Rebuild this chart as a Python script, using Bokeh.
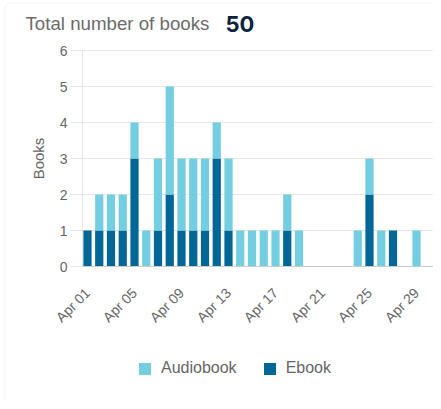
from bokeh.plotting import figure
from bokeh.models import (ColumnDataSource, Range1d, FixedTicker, Legend, LegendItem,
                          Label, PolyAnnotation)
from bokeh.embed import file_html
from bokeh.resources import INLINE
import math

# ---- data ----
day_labels = ["Apr %02d" % d for d in range(1, 31)]
days = list(range(30))
ebook = [1, 1, 1, 1, 3, 0, 1, 2, 1, 1, 1, 3, 1, 0, 0, 0, 0, 1, 0, 0,
         0, 0, 0, 0, 2, 0, 1, 0, 0, 0]
audiobook = [0, 1, 1, 1, 1, 1, 2, 3, 2, 2, 2, 1, 2, 1, 1, 1, 1, 1, 1, 0,
             0, 0, 0, 1, 1, 1, 0, 0, 1, 0]
tick_days = [0, 4, 8, 12, 16, 20, 24, 28]
y_ticks = [0, 1, 2, 3, 4, 5, 6]
title_text = "Total number of books"
total = sum(ebook) + sum(audiobook)

LIGHT = "#74cee2"
DARK = "#006796"
GRID = "#e6e6e6"
TXT = "#666666"

W, H = 433, 401
# pixel geometry of the plotting area inside the canvas
PX_DAY = 11.75          # pixels per day
PX_UNIT = 36.0          # pixels per book
X0_PX, Y0_PX = 87, 266  # canvas position of (Apr 01, 0)
x_lo = -X0_PX / PX_DAY
x_hi = (W - X0_PX) / PX_DAY
y_hi = Y0_PX / PX_UNIT
y_lo = -(H - Y0_PX) / PX_UNIT
x_axis_at = (82 - X0_PX) / PX_DAY

src = ColumnDataSource(dict(day=days, ebook=ebook, audiobook=audiobook))
grid_src = ColumnDataSource(dict(y=y_ticks))

p = figure(width=W, height=H, output_backend="svg", toolbar_location=None,
           x_range=Range1d(x_lo, x_hi), y_range=Range1d(y_lo, y_hi),
           min_border_left=0, min_border_right=0, min_border_top=0,
           min_border_bottom=0)
p.outline_line_color = None
p.background_fill_color = "white"
p.border_fill_color = "white"
p.xgrid.grid_line_color = None
p.ygrid.grid_line_color = None

# card border (left and top edges with a rounded corner; the rest lies off canvas)
L, T, R = 4.5, H - 2.5, 5.0
bx = [W + 60, L]
by = [-30, -30]
for a in range(180, 89, -15):
    t = math.radians(a)
    bx.append(L + R + R * math.cos(t))
    by.append(T - R + R * math.sin(t))
bx.append(W + 60)
by.append(T)
p.add_layout(PolyAnnotation(xs=bx, ys=by, xs_units="screen", ys_units="screen",
                            fill_color=None, fill_alpha=0, line_color="#dddddd",
                            line_width=1, level="underlay"))

# horizontal grid lines (from the y ticks)
p.segment(x0=x_axis_at, x1=x_hi, y0="y", y1="y", source=grid_src,
          line_color=GRID, line_width=1)

rs = p.vbar_stack(["ebook", "audiobook"], x="day", width=0.7, source=src,
                  color=[DARK, LIGHT], line_color=None)

# y axis, placed at the left edge of the plotting area
yax = p.yaxis[0]
yax.fixed_location = x_axis_at
yax.bounds = (0, 6)
yax.ticker = FixedTicker(ticks=y_ticks)
yax.axis_line_color = GRID
yax.major_tick_line_color = GRID
yax.major_tick_out = 12
yax.major_tick_in = 0
yax.minor_tick_line_color = None
yax.major_label_standoff = 3
yax.major_label_text_font = "Liberation Sans"
yax.major_label_text_font_size = "14px"
yax.major_label_text_color = TXT
yax.axis_label = "Books"
yax.axis_label_text_font = "Liberation Sans"
yax.axis_label_text_font_size = "15px"
yax.axis_label_text_font_style = "normal"
yax.axis_label_text_color = TXT
yax.axis_label_standoff = 10

xax = p.xaxis[0]
xax.fixed_location = 0
xax.bounds = (x_axis_at, x_hi)
xax.ticker = FixedTicker(ticks=tick_days)
xax.major_label_overrides = {d: day_labels[d] for d in tick_days}
xax.major_label_orientation = math.pi / 4
xax.axis_line_color = "#cccccc"
xax.major_tick_line_color = None
xax.major_tick_out = 0
xax.major_tick_in = 0
xax.minor_tick_line_color = None
xax.major_label_standoff = 24
xax.major_label_text_font = "Liberation Sans"
xax.major_label_text_font_size = "14px"
xax.major_label_text_color = TXT

# legend
legend = Legend(items=[LegendItem(label="Audiobook", renderers=[rs[1]]),
                       LegendItem(label="Ebook", renderers=[rs[0]])],
                orientation="horizontal", location=(137, 24),
                border_line_color=None, background_fill_alpha=0,
                padding=0, margin=0, spacing=25, label_standoff=9,
                glyph_width=15, glyph_height=15, label_height=15,
                label_text_font="Liberation Sans", label_text_font_size="16px",
                label_text_color=TXT)
p.add_layout(legend, "center")

# title texts
p.add_layout(Label(x=25, y=H - 23, x_units="screen", y_units="screen",
                   text=title_text, text_font="Liberation Sans",
                   text_font_size="18.7px", text_color="#6b6b6b",
                   text_baseline="alphabetic"))
p.add_layout(Label(x=225, y=H - 23, x_units="screen", y_units="screen",
                   text=str(total), text_font="Inter", text_font_style="bold",
                   text_font_size="22px", text_color="#0c2340",
                   text_baseline="alphabetic"))

open("out.html", "w").write(file_html(p, INLINE))
